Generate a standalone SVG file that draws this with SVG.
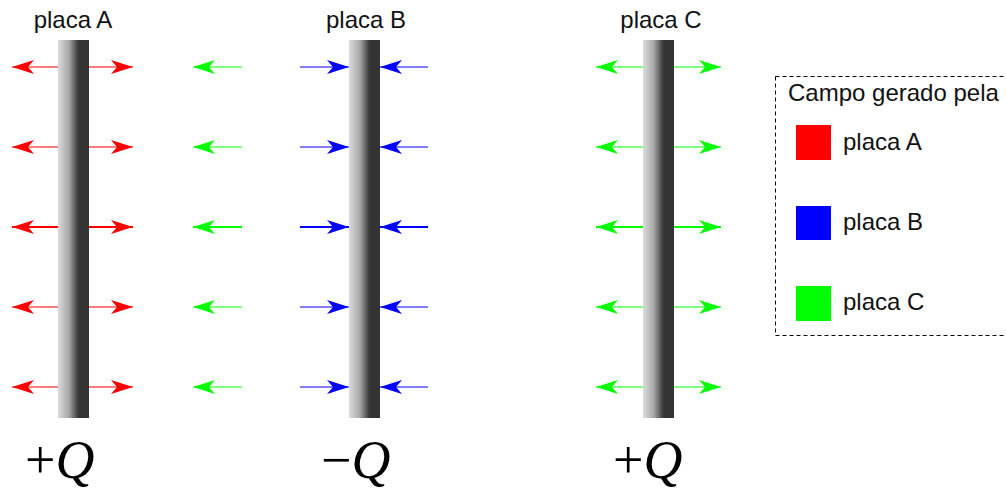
<svg xmlns="http://www.w3.org/2000/svg" width="1006" height="489" viewBox="0 0 1006 489">
<style>
.lbl{font-family:"Liberation Sans",Arial,sans-serif;font-size:24px;fill:#111}
.q{font-family:"Liberation Serif","Times New Roman",serif;font-size:54px;fill:#000}
.r{stroke:#ff0000;fill:none}
.g{stroke:#00ff00;fill:none}
.b{stroke:#0000ff;fill:none}
.w1{stroke-width:1.2}
.w2{stroke-width:2}
</style>
<defs>
<linearGradient id="pg" x1="0" y1="0" x2="1" y2="0">
<stop offset="0" stop-color="#dcdcdc"/>
<stop offset="0.35" stop-color="#a8a8a8"/>
<stop offset="0.62" stop-color="#444"/>
<stop offset="0.7" stop-color="#333"/>
<stop offset="1" stop-color="#333"/>
</linearGradient>
<marker id="mr" viewBox="0 0 22 14" refX="22" refY="7" markerWidth="22" markerHeight="14" markerUnits="userSpaceOnUse" orient="auto"><path d="M22,7 L0,0 L6,7 L0,14 Z" fill="#ff0000"/></marker>
<marker id="mg" viewBox="0 0 22 14" refX="22" refY="7" markerWidth="22" markerHeight="14" markerUnits="userSpaceOnUse" orient="auto"><path d="M22,7 L0,0 L6,7 L0,14 Z" fill="#00ff00"/></marker>
<marker id="mb" viewBox="0 0 22 14" refX="22" refY="7" markerWidth="22" markerHeight="14" markerUnits="userSpaceOnUse" orient="auto"><path d="M22,7 L0,0 L6,7 L0,14 Z" fill="#0000ff"/></marker>
</defs>
<rect x="0" y="0" width="1006" height="489" fill="#fff"/>
<g id="connectors">
<g id="arrows-A" class="r">
<path d="M58,67H12" class="w1" marker-end="url(#mr)"/><path d="M89,67H133" class="w1" marker-end="url(#mr)"/>
<path d="M58,147H12" class="w1" marker-end="url(#mr)"/><path d="M89,147H133" class="w1" marker-end="url(#mr)"/>
<path d="M58,227H12" class="w2" marker-end="url(#mr)"/><path d="M89,227H133" class="w2" marker-end="url(#mr)"/>
<path d="M58,307H12" class="w1" marker-end="url(#mr)"/><path d="M89,307H133" class="w1" marker-end="url(#mr)"/>
<path d="M58,387H12" class="w1" marker-end="url(#mr)"/><path d="M89,387H133" class="w1" marker-end="url(#mr)"/>
</g>
<g id="arrows-mid" class="g">
<path d="M242,67H193" class="w1" marker-end="url(#mg)"/>
<path d="M242,147H193" class="w1" marker-end="url(#mg)"/>
<path d="M242,227H193" class="w2" marker-end="url(#mg)"/>
<path d="M242,307H193" class="w1" marker-end="url(#mg)"/>
<path d="M242,387H193" class="w1" marker-end="url(#mg)"/>
</g>
<g id="arrows-B" class="b">
<path d="M300,67H349" class="w1" marker-end="url(#mb)"/><path d="M428,67H380" class="w1" marker-end="url(#mb)"/>
<path d="M300,147H349" class="w1" marker-end="url(#mb)"/><path d="M428,147H380" class="w1" marker-end="url(#mb)"/>
<path d="M300,227H349" class="w2" marker-end="url(#mb)"/><path d="M428,227H380" class="w2" marker-end="url(#mb)"/>
<path d="M300,307H349" class="w1" marker-end="url(#mb)"/><path d="M428,307H380" class="w1" marker-end="url(#mb)"/>
<path d="M300,387H349" class="w1" marker-end="url(#mb)"/><path d="M428,387H380" class="w1" marker-end="url(#mb)"/>
</g>
<g id="arrows-C" class="g">
<path d="M643,67H596" class="w1" marker-end="url(#mg)"/><path d="M674,67H721" class="w1" marker-end="url(#mg)"/>
<path d="M643,147H596" class="w1" marker-end="url(#mg)"/><path d="M674,147H721" class="w1" marker-end="url(#mg)"/>
<path d="M643,227H596" class="w2" marker-end="url(#mg)"/><path d="M674,227H721" class="w2" marker-end="url(#mg)"/>
<path d="M643,307H596" class="w1" marker-end="url(#mg)"/><path d="M674,307H721" class="w1" marker-end="url(#mg)"/>
<path d="M643,387H596" class="w1" marker-end="url(#mg)"/><path d="M674,387H721" class="w1" marker-end="url(#mg)"/>
</g>
</g>
<g id="plateA">
<rect x="58" y="40" width="31" height="378" fill="url(#pg)"/>
<text class="lbl" x="73" y="28" text-anchor="middle">placa A</text>
<text class="q" x="25" y="478">+<tspan font-style="italic">Q</tspan></text>
</g>
<g id="plateB">
<rect x="349" y="40" width="31" height="378" fill="url(#pg)"/>
<text class="lbl" x="366" y="28" text-anchor="middle">placa B</text>
<text class="q" x="321" y="478">−<tspan font-style="italic">Q</tspan></text>
</g>
<g id="plateC">
<rect x="643" y="40" width="31" height="378" fill="url(#pg)"/>
<text class="lbl" x="661" y="28" text-anchor="middle">placa C</text>
<text class="q" x="613" y="478">+<tspan font-style="italic">Q</tspan></text>
</g>
<g id="legend">
<rect x="775.5" y="76.5" width="240" height="259" fill="none" stroke="#000" stroke-width="1" stroke-dasharray="4,3"/>
<text class="lbl" x="788" y="101">Campo gerado pela</text>
<rect x="796" y="125" width="35" height="35" fill="#ff0000"/>
<text class="lbl" x="843" y="150">placa A</text>
<rect x="796" y="206" width="35" height="34" fill="#0000ff"/>
<text class="lbl" x="843" y="230">placa B</text>
<rect x="796" y="286" width="35" height="35" fill="#00ff00"/>
<text class="lbl" x="843" y="310">placa C</text>
</g>
</svg>
